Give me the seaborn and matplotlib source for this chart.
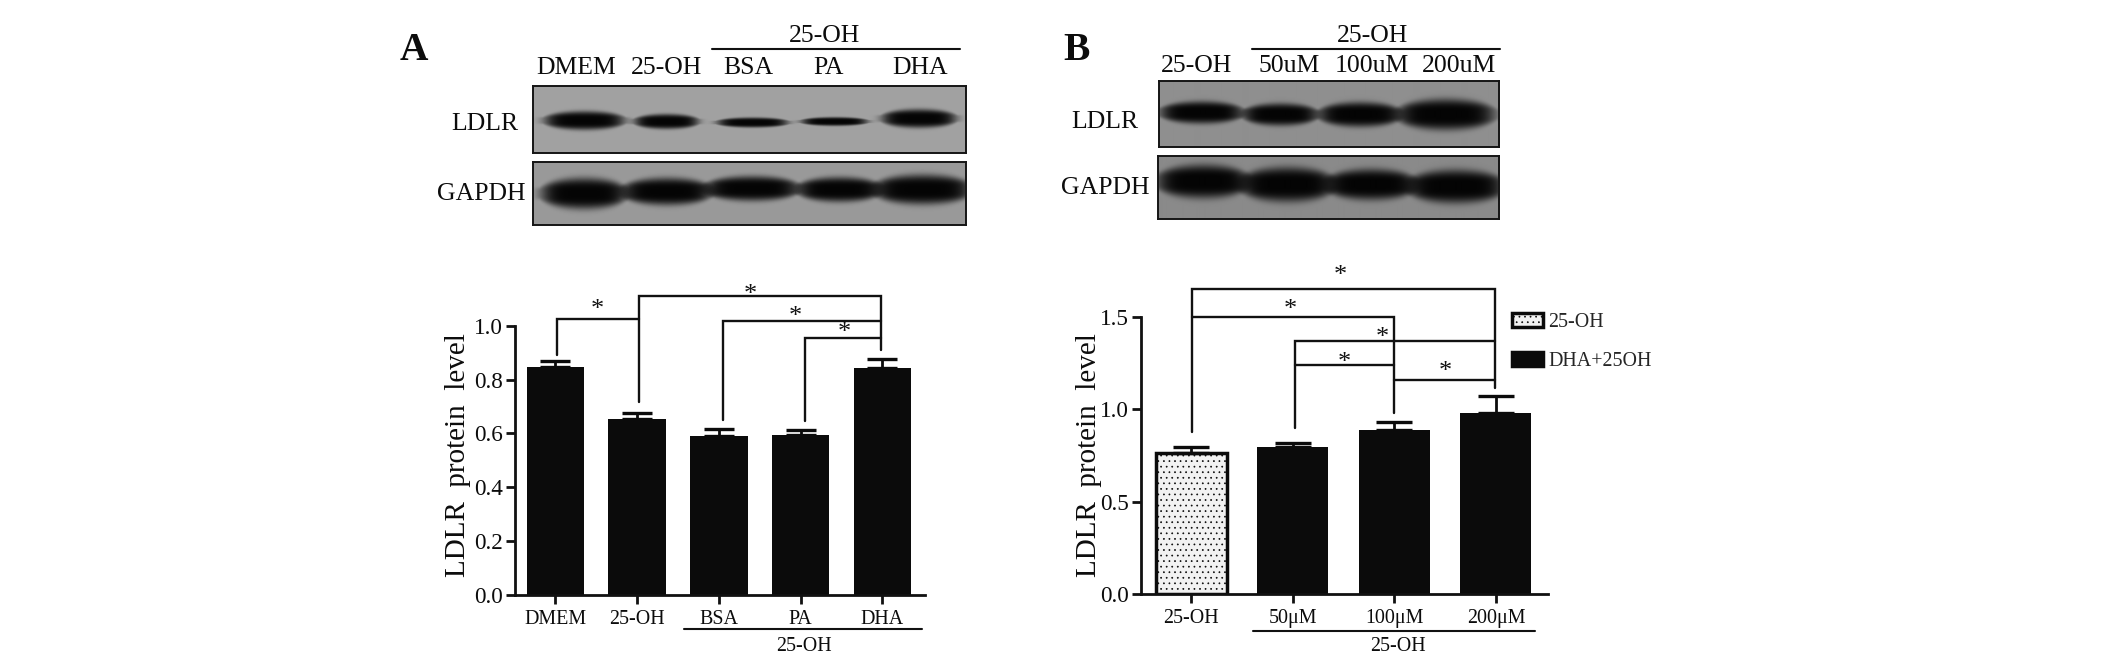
import numpy as np
import pandas as pd
import seaborn as sns
import matplotlib.pyplot as plt
from matplotlib.lines import Line2D
from matplotlib.patches import Patch

W, H = 2126, 656

# bar chart values
labels_a = ['DMEM', '25-OH', 'BSA', 'PA', 'DHA']
values_a = [0.846, 0.655, 0.592, 0.593, 0.843]
errors_a = [0.023, 0.020, 0.024, 0.020, 0.034]
ticks_a = [0.0, 0.2, 0.4, 0.6, 0.8, 1.0]

labels_b = ['25-OH', '50μM', '100μM', '200μM']
values_b = [0.764, 0.793, 0.885, 0.979]
errors_b = [0.033, 0.025, 0.047, 0.090]
ticks_b = [0.0, 0.5, 1.0, 1.5]

# brackets: left x, right x, level, left foot, right foot (None = no foot)
brackets_a = [
    (0.016, 1.022, 1.0235, 0.891, None),
    (1.022, 3.988, 1.111, 0.718, 0.91),
    (2.045, 3.988, 1.0186, 0.650, None),
    (3.047, 3.988, 0.955, 0.647, None),
]
stars_a = [(0.513, 1.083), (2.387, 1.139), (2.937, 1.058), (3.532, 0.996)]

brackets_b = [
    (0.011, 2.989, 1.648, 0.878, 1.112),
    (0.011, 2.000, 1.500, None, 0.981),
    (1.023, 2.989, 1.370, 0.900, None),
    (1.023, 2.000, 1.239, None, None),
    (2.000, 2.989, 1.157, None, None),
]
stars_b = [(1.467, 1.756), (0.977, 1.572), (1.881, 1.419), (1.510, 1.287), (2.502, 1.235)]

# blot bands, pixels inside each blot: left, right, centre y, height
ldlr_a = [(16, 86, 34, 15), (105, 161, 35, 12), (188, 250, 36, 8), (272, 330, 35, 7), (353, 418, 32, 15)]
gapdh_a = [(13, 88, 31, 25), (94, 173, 29, 22), (177, 260, 26, 20), (269, 343, 27, 20), (346, 432, 27, 24)]
ldlr_b = [(6, 78, 31, 18), (88, 153, 33, 18), (164, 236, 33, 20), (243, 328, 33, 25)]
gapdh_b = [(4, 85, 25, 27), (87, 170, 28, 28), (172, 252, 28, 25), (254, 339, 30, 27)]


def px_axes(fig, left, top, right, bottom):
    return fig.add_axes([left / W, 1 - bottom / H, (right - left) / W, (bottom - top) / H])


def px_text(fig, x, y, s, size, **kwargs):
    # 2.5 px lower because va=center counts the descent
    fig.text(x / W, 1 - (y + 2.5) / H, s, fontsize=size, ha='center', va='center', color='#0c0c0c', **kwargs)


def px_line(fig, x0, x1, y):
    fig.add_artist(Line2D([x0 / W, x1 / W], [1 - y / H, 1 - y / H], color='#111111', lw=1.5))


def draw_blot(fig, box, bands, background):
    # soft dark bands on a grey membrane, tapered toward the ends of each band
    left, top, right, bottom = box
    ax = px_axes(fig, left, top, right, bottom)
    xx, yy = np.meshgrid(np.arange(right - left), np.arange(bottom - top))
    grid = np.full(xx.shape, background, dtype=float)
    for x0, x1, yc, h in bands:
        dx = (xx - (x0 + x1) / 2) / ((x1 - x0) / 2)
        taper = np.sqrt(np.clip(1 - 0.6 * dx ** 2, 0.15, 1))
        dy = (yy - yc) / (h / 2 * taper)
        grid *= 1 - 0.97 * np.exp(-0.45 * (dx ** 6 + dy ** 4))
    ax.imshow(grid, cmap='gray', vmin=0, vmax=1, aspect='auto', interpolation='bilinear')
    ax.set_xticks([])
    ax.set_yticks([])
    for spine in ax.spines.values():
        spine.set_visible(True)
        spine.set_linewidth(1.4)
        spine.set_color('#151515')


def draw_bars(ax, labels, values, errors, ticks, xlim, capsize):
    df = pd.DataFrame({'group': labels, 'level': values})
    sns.barplot(data=df, x='group', y='level', color='#0b0b0b', saturation=1, width=0.7,
                order=labels, ax=ax, linewidth=0)
    ax.errorbar(range(len(labels)), values, yerr=[np.zeros(len(errors)), errors], fmt='none',
                ecolor='#0b0b0b', elinewidth=2, capsize=capsize, capthick=2.4)
    ax.set_xlim(xlim)
    ax.set_ylim(ticks[0], ticks[-1])
    ax.set_yticks(ticks)
    ax.set_yticklabels(['%.1f' % t for t in ticks])
    ax.set_xlabel('')
    sns.despine(ax=ax)
    for side in ['left', 'bottom']:
        ax.spines[side].set_linewidth(2)
        ax.spines[side].set_color('#111111')
    ax.tick_params(axis='y', length=6.5, width=2, pad=2, labelsize=16.7, color='#111111', labelcolor='#0c0c0c')
    ax.tick_params(axis='x', length=6.5, width=2, pad=4, labelsize=14.4, color='#111111', labelcolor='#0c0c0c')


def draw_brackets(ax, brackets, stars):
    for x0, x1, level, foot0, foot1 in brackets:
        xs = [x0, x1]
        ys = [level, level]
        if foot0 is not None:
            xs.insert(0, x0)
            ys.insert(0, foot0)
        if foot1 is not None:
            xs.append(x1)
            ys.append(foot1)
        ax.plot(xs, ys, color='#111111', lw=1.7, clip_on=False, solid_joinstyle='miter')
    for x, y in stars:
        ax.annotate('*', (x, y), xytext=(0, -3), textcoords='offset points', fontsize=19,
                    ha='center', va='center_baseline', color='#111111', annotation_clip=False)


sns.set_theme(style='ticks')
plt.rcParams['font.family'] = ['Liberation Serif', 'DejaVu Serif']
plt.rcParams['hatch.linewidth'] = 0.5

fig = plt.figure(figsize=(W / 100, H / 100), dpi=100, facecolor='white')

# western blots
draw_blot(fig, (533, 86, 966, 153), ldlr_a, 0.63)
draw_blot(fig, (533, 162, 966, 225), gapdh_a, 0.60)
draw_blot(fig, (1159, 81, 1499, 147), ldlr_b, 0.56)
draw_blot(fig, (1158, 156, 1499, 219), gapdh_b, 0.54)

px_text(fig, 414, 48, 'A', 28.4, fontweight='bold')
px_text(fig, 1077, 48, 'B', 28.4, fontweight='bold')
px_text(fig, 485, 122, 'LDLR', 18.5)
px_text(fig, 481, 192, 'GAPDH', 18.5)
px_text(fig, 1105, 119, 'LDLR', 18.5)
px_text(fig, 1105, 186, 'GAPDH', 18.5)

for x, s in zip([576, 666, 748, 829, 920], labels_a):
    px_text(fig, x, 65, s, 18.5)
for x, s in zip([1196, 1289, 1372, 1459], ['25-OH', '50uM', '100uM', '200uM']):
    px_text(fig, x, 64, s, 18.5)
px_text(fig, 824, 34, '25-OH', 18.5)
px_text(fig, 1373, 34, '25-OH', 18.5)
px_line(fig, 712, 960, 49)
px_line(fig, 1252, 1500, 49)

# panel A bars
ax_a = px_axes(fig, 515, 325.7, 925, 595)
draw_bars(ax_a, labels_a, values_a, errors_a, ticks_a, (-0.493, 4.52), 11)
draw_brackets(ax_a, brackets_a, stars_a)
ax_a.set_ylabel('LDLR  protein  level', fontsize=21, color='#0c0c0c', va='center')
ax_a.yaxis.set_label_coords((458 - 515) / 410, (595 - 455) / 269.3)
px_line(fig, 684, 922, 629)
px_text(fig, 804, 644, '25-OH', 14.4)

# panel B bars
ax_b = px_axes(fig, 1140.5, 316.7, 1547.5, 594)
draw_bars(ax_b, labels_b, values_b, errors_b, ticks_b, (-0.498, 3.508), 13)
first = ax_b.patches[0]
first.set_facecolor('#f2f2f2')
first.set_edgecolor('#0b0b0b')
first.set_linewidth(2.5)
first.set_hatch('...')
draw_brackets(ax_b, brackets_b, stars_b)
ax_b.set_ylabel('LDLR  protein  level', fontsize=21, color='#0c0c0c', va='center')
ax_b.yaxis.set_label_coords((1089 - 1140.5) / 407, (594 - 455.5) / 277.3)
px_line(fig, 1253, 1535, 631)
px_text(fig, 1398, 644, '25-OH', 14.4)

handles = [Patch(facecolor='#f2f2f2', edgecolor='#0b0b0b', hatch='...', linewidth=2.5),
           Patch(facecolor='#0b0b0b', edgecolor='#0b0b0b', linewidth=2.5)]
ax_b.legend(handles, ['25-OH', 'DHA+25OH'], loc='upper left', bbox_to_anchor=(1512 / W, 1 - 313 / H),
            bbox_transform=fig.transFigure, frameon=False, fontsize=14.4, handlelength=1.55,
            handleheight=0.7, handletextpad=0.25, labelspacing=1.0, borderpad=0, borderaxespad=0)

fig.savefig('out.png', dpi=100)
